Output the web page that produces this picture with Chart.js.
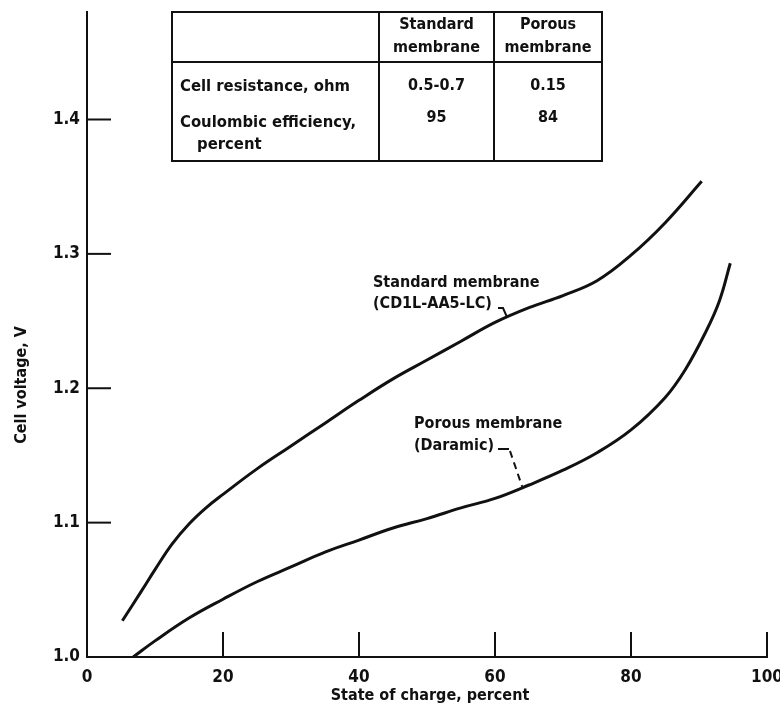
<!DOCTYPE html>
<html>
<head>
<meta charset="utf-8">
<script src="https://cdn.jsdelivr.net/npm/chart.js@4"></script>
<style>
  html, body { margin: 0; padding: 0; background: #fff; }
  #wrap { width: 780px; height: 712px; }
</style>
</head>
<body>
<div id="wrap"><canvas id="cellChart" width="780" height="712"></canvas></div>
<script>
// state of charge (percent) vs cell voltage (V)
const stdSoc  = [5.2, 8, 10, 12.5, 15, 17.5, 20, 25, 30, 35, 40, 45, 50, 55, 60, 65, 70, 75, 80, 85, 90.4];
const stdVolt = [1.027, 1.049, 1.065, 1.084, 1.099, 1.111, 1.121, 1.140, 1.157, 1.174, 1.191, 1.207, 1.221, 1.235, 1.249, 1.260, 1.269, 1.280, 1.299, 1.323, 1.354];
const porSoc  = [6.8, 10, 15, 20, 25, 30, 35, 40, 45, 50, 55, 60, 65, 70, 75, 80, 85, 88, 91, 93, 94.6];
const porVolt = [1.000, 1.012, 1.029, 1.043, 1.056, 1.067, 1.078, 1.087, 1.096, 1.103, 1.111, 1.118, 1.128, 1.139, 1.152, 1.169, 1.193, 1.214, 1.242, 1.265, 1.293];

const xTicks = [0, 20, 40, 60, 80, 100];
const yTicks = [1.0, 1.1, 1.2, 1.3, 1.4];

// inset table
const tableHead = [['Standard', 'membrane'], ['Porous', 'membrane']];
const tableRows = ['Cell resistance, ohm', 'Coulombic efficiency,'];
const tableStd  = ['0.5-0.7', '95'];
const tablePor  = ['0.15', '84'];

const FONT = '"DejaVu Sans Condensed", "DejaVu Sans", sans-serif';
const INK = '#111';

const pts = (xs, ys) => xs.map((x, i) => ({ x: x, y: ys[i] }));

const decor = {
  id: 'decor',
  afterDraw(chart) {
    const c = chart.ctx;
    const xs = chart.scales.x, ys = chart.scales.y;
    const area = chart.chartArea;
    c.save();
    c.strokeStyle = INK;
    c.fillStyle = INK;

    // inward tick marks
    c.lineWidth = 2;
    xTicks.slice(1).forEach(v => {
      const px = xs.getPixelForValue(v);
      c.beginPath(); c.moveTo(px, area.bottom); c.lineTo(px, area.bottom - 25); c.stroke();
    });
    yTicks.slice(1).forEach(v => {
      const py = ys.getPixelForValue(v);
      c.beginPath(); c.moveTo(area.left, py); c.lineTo(area.left + 24, py); c.stroke();
    });

    // axis titles
    c.font = 'bold 16px ' + FONT;
    c.textAlign = 'center'; c.textBaseline = 'middle';
    c.fillText('State of charge, percent', 430, 696);
    c.save();
    c.translate(22, 385);
    c.rotate(-Math.PI / 2);
    c.fillText('Cell voltage, V', 0, 0);
    c.restore();

    // table
    const L = 172, R = 602, T = 12, B = 161, H = 62, C1 = 379, C2 = 494;
    c.lineWidth = 2;
    c.strokeRect(L, T, R - L, B - T);
    c.beginPath();
    c.moveTo(L, H); c.lineTo(R, H);
    c.moveTo(C1, T); c.lineTo(C1, B);
    c.moveTo(C2, T); c.lineTo(C2, B);
    c.stroke();
    c.font = 'bold 16px ' + FONT;
    c.textAlign = 'center';
    const cx = [(C1 + C2) / 2, (C2 + R) / 2];
    tableHead.forEach((h, i) => {
      c.fillText(h[0], cx[i], 25);
      c.fillText(h[1], cx[i], 48);
    });
    c.textAlign = 'left';
    c.font = 'bold 16.5px ' + FONT;
    c.fillText(tableRows[0], 180, 87);
    c.fillText(tableRows[1], 180, 123);
    c.fillText('percent', 197, 145);
    c.font = 'bold 16px ' + FONT;
    c.textAlign = 'center';
    const rowY = [86, 118];
    tableStd.forEach((t, i) => c.fillText(t, cx[0], rowY[i]));
    tablePor.forEach((t, i) => c.fillText(t, cx[1], rowY[i]));

    // curve labels
    c.textAlign = 'left';
    c.fillText('Standard membrane', 373, 283);
    c.fillText('(CD1L-AA5-LC)', 373, 304);
    c.fillText('Porous membrane', 414, 424);
    c.fillText('(Daramic)', 414, 446);

    // leaders
    c.lineWidth = 2;
    let ex = xs.getPixelForValue(61.8), ey = ys.getPixelForValue(1.251);
    c.beginPath(); c.moveTo(498, 308); c.lineTo(503, 308); c.lineTo(ex, ey - 2); c.stroke();
    ex = xs.getPixelForValue(64.0); ey = ys.getPixelForValue(1.126);
    c.beginPath(); c.moveTo(498, 449); c.lineTo(509, 449); c.stroke();
    c.setLineDash([7, 5]);
    c.beginPath(); c.moveTo(510, 451); c.lineTo(ex, ey - 1); c.stroke();
    c.restore();
  }
};

const ctxCell = document.getElementById('cellChart').getContext('2d');
const cellChart = new Chart(ctxCell, {
  type: 'scatter',
  data: {
    datasets: [
      { label: 'Standard membrane (CD1L-AA5-LC)', data: pts(stdSoc, stdVolt) },
      { label: 'Porous membrane (Daramic)', data: pts(porSoc, porVolt) }
    ]
  },
  options: {
    responsive: false,
    animation: false,
    showLine: true,
    elements: {
      point: { radius: 0 },
      line: { borderColor: INK, borderWidth: 3, tension: 0.4, fill: false }
    },
    layout: { padding: { top: 12, right: 13, left: 0, bottom: 0 } },
    plugins: { legend: { display: false }, tooltip: { enabled: false } },
    scales: {
      x: {
        type: 'linear', min: 0, max: 100,
        afterBuildTicks: s => { s.ticks = xTicks.map(v => ({ value: v })); },
        afterFit: s => { s.height = 55; s.paddingLeft = 0; s.paddingRight = 0; },
        grid: { display: false, drawTicks: false, tickLength: 0 },
        border: { display: true, color: INK, width: 2 },
        ticks: { color: INK, padding: 10, maxRotation: 0, font: { family: FONT, size: 17, weight: 'bold' } }
      },
      y: {
        type: 'linear', min: 1.0, max: 1.48,
        afterBuildTicks: s => { s.ticks = yTicks.map(v => ({ value: v })); },
        afterFit: s => { s.width = 87; s.paddingTop = 0; s.paddingBottom = 0; },
        grid: { display: false, drawTicks: false, tickLength: 0 },
        border: { display: true, color: INK, width: 2 },
        ticks: { color: INK, padding: 7, font: { family: FONT, size: 17, weight: 'bold' },
                 callback: v => v.toFixed(1) }
      }
    }
  },
  plugins: [decor]
});
</script>
</body>
</html>
